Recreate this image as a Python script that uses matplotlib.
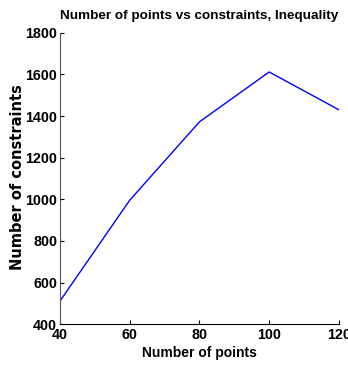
import numpy as np
from matplotlib import pyplot as plt

num_points = [40, 60, 80, 100, 120]
num_constraints = [510, 995, 1372, 1612, 1430]

plt.rcParams['font.family'] = ['Liberation Sans', 'DejaVu Sans']
plt.rcParams['font.weight'] = 'bold'

fig = plt.figure(figsize=(3.48, 3.65), dpi=100)
ax = fig.add_axes([0.172, 0.112, 0.802, 0.798])
ax.plot(num_points, num_constraints, color='#0000ff', linewidth=1.0)

ax.set_xlim(40, 120)
ax.set_ylim(400, 1800)
ax.set_xticks(np.arange(40, 121, 20))
ax.set_yticks(np.arange(400, 1801, 200))
ax.tick_params(direction='in', length=3, labelsize=10.3, width=0.8)
ax.tick_params(axis='x', pad=3)
ax.tick_params(axis='y', pad=2)
for lab in ax.get_xticklabels() + ax.get_yticklabels():
    lab.set_fontweight('bold')
ax.spines['top'].set_visible(False)
ax.spines['right'].set_visible(False)
ax.spines['left'].set_color('#555555')
ax.spines['bottom'].set_color('#000000')

ax.set_title('Number of points vs constraints, Inequality', fontsize=9.7, fontweight='bold', pad=10)
ax.set_xlabel('Number of points', fontsize=10, fontweight='bold', labelpad=3)
ax.set_ylabel('Number of constraints', fontsize=10.5, fontweight='bold',
              family=['DejaVu Sans'])
ax.yaxis.set_label_coords(-0.125, 0.505)

fig.savefig('out.png', dpi=100)
